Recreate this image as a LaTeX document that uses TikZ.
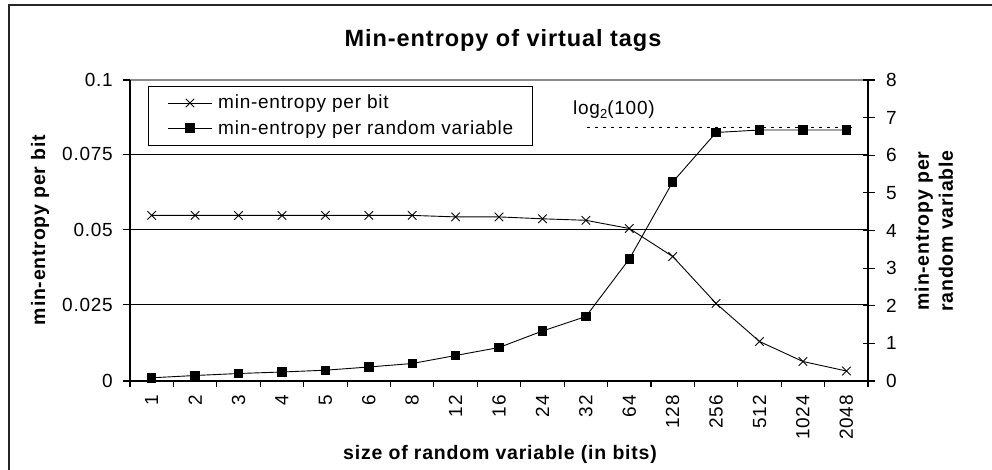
\documentclass[tikz,border=0pt]{standalone}
\usepackage{fontspec}
\setmainfont{Liberation Sans}[LetterSpace=4]
\usetikzlibrary{plotmarks}

\begin{document}
\begin{tikzpicture}[x=1pt,y=-1pt,
  ticklabel/.style={font=\fontsize{19}{21}\selectfont, inner sep=0pt},
  axistitle/.style={font=\bfseries\fontsize{19.5}{24}\selectfont, inner sep=0pt},
  legendtext/.style={font=\fontsize{19}{21}\selectfont, inner sep=0pt, anchor=base west},
  gridline/.style={line width=1.1pt, black},
  axisline/.style={line width=1.1pt, black},
  bitseries/.style={line width=0.9pt, black, mark=x, mark size=6pt},
  varseries/.style={line width=0.9pt, black, mark=square*, mark size=4.2pt},
]
\useasboundingbox (0,0) rectangle (992,470);

% outer chart frame (left and top edges)
\draw[line width=1.6pt, black!85] (9,470) -- (9,5) -- (992,5);

% title
\node[font=\bfseries\fontsize{23.5}{28}\selectfont, inner sep=0pt, anchor=base]
  (title) at (503,47) {Min-entropy of virtual tags};

% horizontal grid lines
\draw[line width=1.1pt, black!45] (130,80) -- (868,80);
\foreach \y in {154.25,229.5,304.75}
  \draw[gridline] (130,\y) -- (868,\y);

% axes
\draw[axisline] (130,80) -- (130,387);
\draw[axisline] (868,80) -- (868,387);
\draw[axisline] (130,381) -- (868,381);

% left axis ticks and labels
\foreach \v/\y in {0.1/80,0.075/154.25,0.05/229.5,0.025/304.75,0/381}{
  \draw[axisline] (123,\y) -- (130,\y);
  \node[ticklabel, anchor=east] (l\v) at (113,\y) {\v};
}

% right axis ticks and labels
\foreach \v in {0,...,8}{
  \pgfmathsetmacro{\yy}{381-37.625*\v}
  \draw[axisline] (863,\yy) -- (875,\yy);
  \node[ticklabel, anchor=west] (r\v) at (886,\yy) {\v};
}

% category axis ticks and labels
\foreach \k in {0,...,17}
  \draw[axisline] ({130+43.412*\k},381) -- ({130+43.412*\k},387);
\foreach \lab [count=\i from 0] in {1,2,3,4,5,6,8,12,16,24,32,64,128,256,512,1024,2048}
  \node[ticklabel, rotate=90, anchor=east] (c\i) at ({130+43.412*(\i+0.5)},395) {\lab};

% axis titles
\node[axistitle, anchor=base] (xtitle) at (500,459) {size of random variable (in bits)};
\node[axistitle, rotate=90] (ytitle) at (40,230) {min-entropy per bit};
\node[axistitle, rotate=90, align=center] (y2title) at (934,231)
  {min-entropy per\\random variable};

% log2(100) reference level
\draw[line width=1pt, dash pattern=on 2.5pt off 5.5pt] (587,128) -- (852,128);
\node[font=\fontsize{19}{21}\selectfont, inner sep=0pt, anchor=base west] (loglab) at (573,115)
  {log\raisebox{-0.35ex}{\fontsize{13}{14}\selectfont 2}(100)};

% min-entropy per bit (left scale)
\draw[bitseries] plot coordinates {
  (151.7,215.4) (195.1,215.4) (238.5,215.4) (282.0,215.4) (325.4,215.4)
  (368.8,215.4) (412.2,215.4) (455.6,216.9) (499.0,216.9) (542.5,218.8)
  (585.9,220.3) (629.3,228.5) (672.7,256.5) (716.1,303.5) (759.5,341.5)
  (802.9,361.5) (846.4,371.0)};

% min-entropy per random variable (right scale)
\draw[varseries] plot coordinates {
  (151.7,377.8) (195.1,375.5) (238.5,373.5) (282.0,372.0) (325.4,370.2)
  (368.8,367.0) (412.2,363.5) (455.6,355.5) (499.0,347.5) (542.5,331.0)
  (585.9,316.5) (629.3,259.0) (672.7,182.0) (716.1,132.5) (759.5,130.0)
  (802.9,130.0) (846.4,130.0)};

% legend
\draw[line width=1pt, fill=white] (148,87) rectangle (532,146);
\draw[line width=0.9pt] (168,103) -- (212,103);
\draw[line width=0.9pt] (168,128) -- (212,128);
\draw[bitseries] plot coordinates {(190,103)};
\draw[varseries] plot coordinates {(190,128)};
\node[legendtext] (leg1) at (218,109) {min-entropy per bit};
\node[legendtext] (leg2) at (218,135) {min-entropy per random variable};
\end{tikzpicture}
\end{document}
